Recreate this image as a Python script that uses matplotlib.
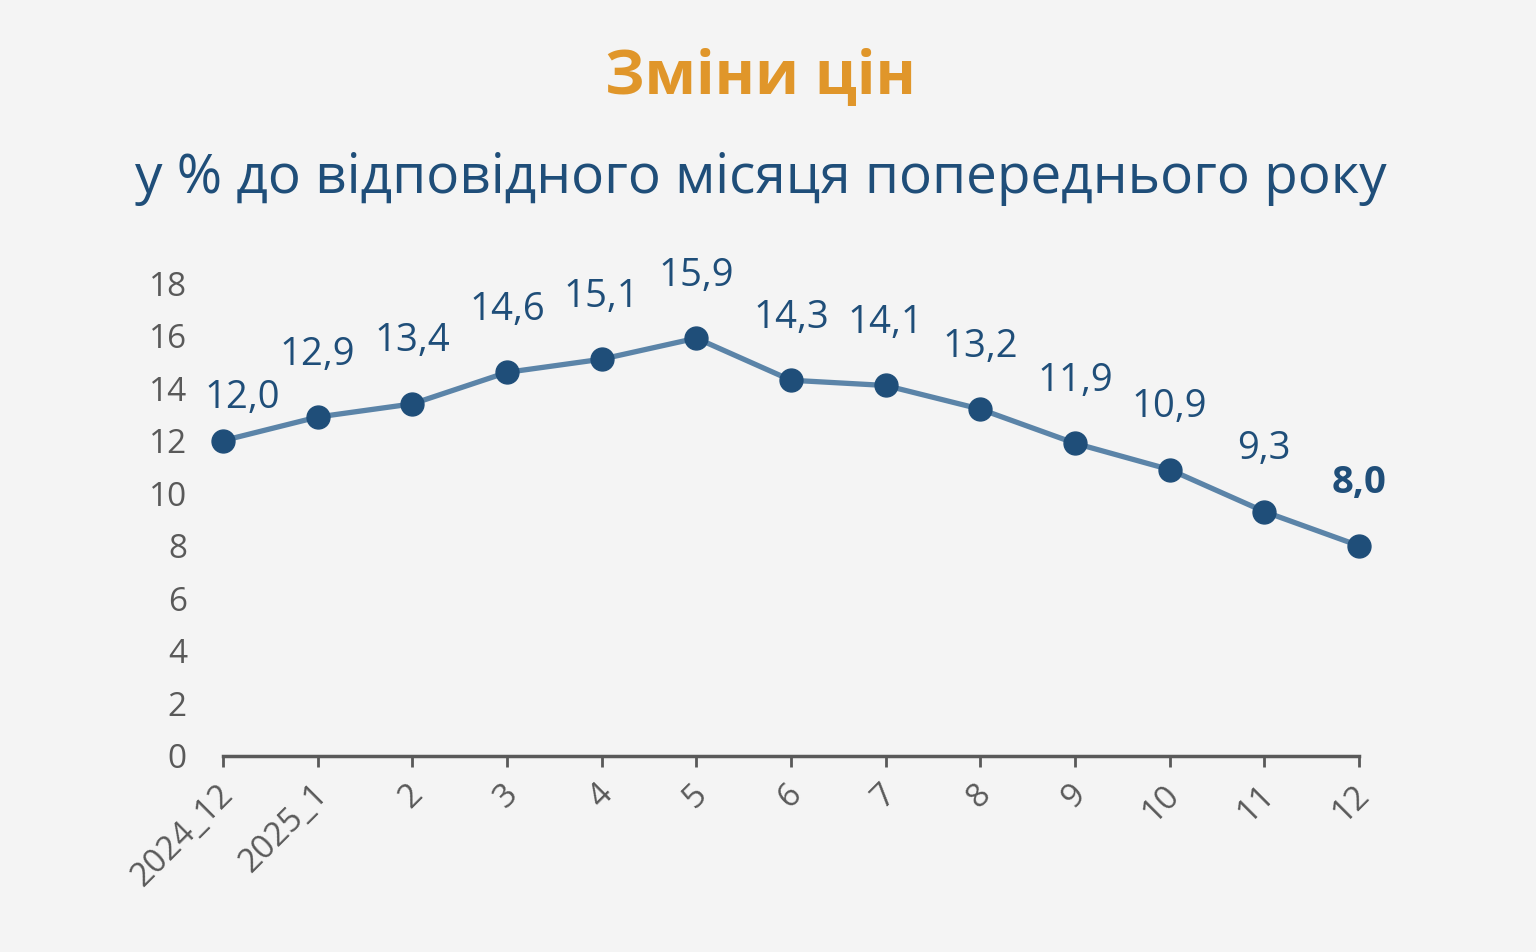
import matplotlib.pyplot as plt
import matplotlib.transforms as mtransforms

plt.rcParams['font.family'] = ['Open Sans', 'DejaVu Sans']

# data
months = ['2024_12', '2025_1', '2', '3', '4', '5', '6', '7', '8', '9', '10', '11', '12']
values = [12.0, 12.9, 13.4, 14.6, 15.1, 15.9, 14.3, 14.1, 13.2, 11.9, 10.9, 9.3, 8.0]
y_ticks = [0, 2, 4, 6, 8, 10, 12, 14, 16, 18]

bg = '#F4F4F4'
navy = '#1F4E79'
line_col = '#5B84A8'
gray = '#595959'

fig = plt.figure(figsize=(15.36, 9.52), dpi=100, facecolor=bg)
ax = fig.add_axes([223 / 1536, 1 - 756 / 952, (1359 - 223) / 1536, (756 - 283) / 952])
ax.set_facecolor(bg)

x = list(range(len(months)))
ax.plot(x, values, color=line_col, linewidth=3.8, zorder=2, clip_on=False)
ax.plot(x, values, 'o', color=navy, markersize=16.5, zorder=3, clip_on=False)

for i, v in enumerate(values):
    txt = f'{v:.1f}'.replace('.', ',')
    last = i == len(values) - 1
    # first label sits lower and a bit to the right
    off = (14, 31) if i == 0 else (0, 45)
    ax.annotate(txt, (i, v), xytext=off, textcoords='offset points',
                ha='center', va='center', fontsize=27.5, color=navy,
                fontweight='bold' if last else 'normal')

ax.set_xlim(0, len(months) - 1)
ax.set_ylim(0, 18)
ax.set_yticks(y_ticks)
ax.set_yticklabels([str(t) for t in y_ticks])
ax.set_xticks(x)
ax.set_xticklabels(months, rotation=45, ha='right', rotation_mode='anchor')

ax.tick_params(axis='y', length=0, pad=26, labelsize=24, labelcolor=gray)
ax.tick_params(axis='x', length=8, width=2, color=gray, pad=8, labelsize=24, labelcolor=gray)

# nudge the rotated month labels a little to the left
shift = mtransforms.ScaledTranslation(-6 / 100, 0, fig.dpi_scale_trans)
for lbl in ax.get_xticklabels():
    lbl.set_transform(lbl.get_transform() + shift)

for s in ['top', 'right', 'left']:
    ax.spines[s].set_visible(False)
ax.spines['bottom'].set_color(gray)
ax.spines['bottom'].set_linewidth(2.5)

fig.text(0.495, 1 - 78 / 952, 'Зміни цін', ha='center', va='center',
         fontsize=44, fontweight='bold', color='#E0962A')
fig.text(0.495, 1 - 178 / 952, 'у % до відповідного місяця попереднього року',
         ha='center', va='center', fontsize=39.5, color=navy)

fig.savefig('out.png', dpi=100, facecolor=bg)
